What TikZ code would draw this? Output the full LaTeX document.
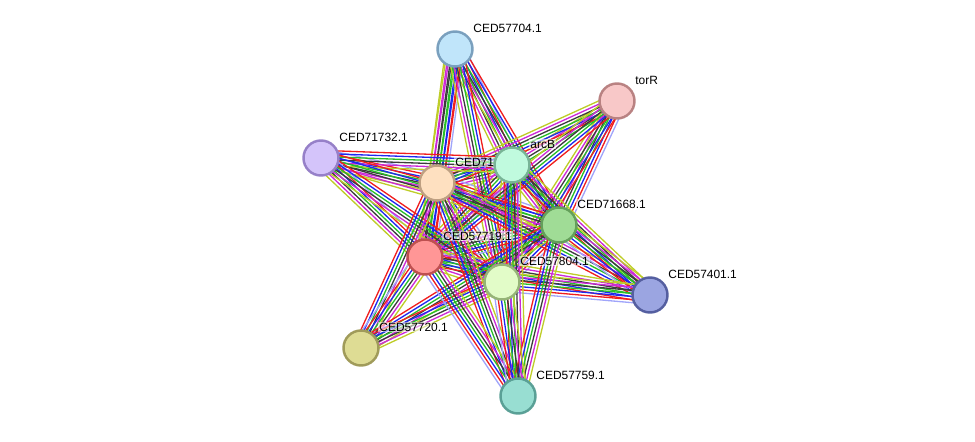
\documentclass[tikz,border=0pt]{standalone}
\usepackage{fontspec}
\newfontfamily\lblfont{Liberation Sans}
\usetikzlibrary{calc}

\definecolor{sgreen}{RGB}{40,190,40}
\definecolor{sred}{RGB}{240,30,30}
\definecolor{sblue}{RGB}{30,40,240}
\definecolor{sblack}{RGB}{60,60,60}
\definecolor{smag}{RGB}{205,40,215}
\definecolor{syel}{RGB}{190,205,40}
\definecolor{slblue}{RGB}{160,165,250}

\pgfdeclarelayer{edgelayer}
\pgfdeclarelayer{lbllayer}
\pgfsetlayers{edgelayer,lbllayer,main}

% colour sets of the evidence lines
\def\fullc{syel,smag,sblack,sgreen,sblue,sred,slblue}
\def\midc{syel,smag,sblack,sgreen,sblue,sred}
\def\lowc{syel,smag,sblack,sgreen}

% one bundle of parallel lines between two nodes
\newcommand{\bundle}[3]{%
  \foreach \c [count=\n] in #3 {\xdef\bn{\n}}%
  \foreach \c [count=\i] in #3 {%
    \pgfmathsetmacro{\off}{(\i-(\bn+1)/2)*1.75}%
    \draw[\c, evline] ($(#1.center)!\off pt!90:(#2.center)$) -- ($(#2.center)!\off pt!-90:(#1.center)$);
  }%
}

\begin{document}
\begin{tikzpicture}[
    x=0.02cm, y=-0.02cm,
    prot/.style={
        circle,
        minimum size=0.7cm,
        line width=1.4pt,
        inner sep=0pt
    },
    lbl/.style={
        anchor=west,
        font=\lblfont\fontsize{6.8}{8}\selectfont,
        fill=white,
        fill opacity=0.55,
        text opacity=1,
        inner sep=0.6pt
    },
    evline/.style={
        line width=0.75pt
    }
]
\useasboundingbox (0,0) rectangle (975,442);

% Proteins
\node[prot, fill={rgb,255:red,192;green,229;blue,250}, draw={rgb,255:red,122;green,160;blue,190}] (p1) at (455,49) {};
\node[prot, fill={rgb,255:red,248;green,200;blue,200}, draw={rgb,255:red,185;green,130;blue,130}] (torr) at (617,101) {};
\node[prot, fill={rgb,255:red,212;green,196;blue,250}, draw={rgb,255:red,150;green,128;blue,200}] (c32) at (321,158) {};
\node[prot, fill={rgb,255:red,254;green,224;blue,192}, draw={rgb,255:red,190;green,160;blue,130}] (c71) at (437,183) {};
\node[prot, fill={rgb,255:red,192;green,250;blue,222}, draw={rgb,255:red,120;green,180;blue,150}] (arcb) at (512,165) {};
\node[prot, fill={rgb,255:red,160;green,220;blue,150}, draw={rgb,255:red,100;green,160;blue,90}] (c68) at (559,225) {};
\node[prot, fill={rgb,255:red,255;green,150;blue,150}, draw={rgb,255:red,190;green,80;blue,80}] (c19) at (425,257) {};
\node[prot, fill={rgb,255:red,226;green,252;blue,200}, draw={rgb,255:red,150;green,180;blue,120}] (c04) at (502,282) {};
\node[prot, fill={rgb,255:red,155;green,165;blue,225}, draw={rgb,255:red,85;green,95;blue,160}] (c01) at (650,295) {};
\node[prot, fill={rgb,255:red,222;green,220;blue,148}, draw={rgb,255:red,160;green,155;blue,90}] (c20) at (361,348) {};
\node[prot, fill={rgb,255:red,152;green,222;blue,210}, draw={rgb,255:red,90;green,160;blue,150}] (c59) at (518,396) {};

% Labels
\begin{pgfonlayer}{lbllayer}
\node[lbl] (p1l)   at ($(p1)+(17,-21)$)   {CED57704.1};
\node[lbl] (torrl) at ($(torr)+(17,-21)$) {torR};
\node[lbl] (c32l)  at ($(c32)+(17,-21)$)  {CED71732.1};
\node[lbl] (c71l)  at ($(c71)+(17,-21)$)  {CED71};
\node[lbl] (arcbl) at ($(arcb)+(17,-21)$) {arcB};
\node[lbl] (c68l)  at ($(c68)+(17,-21)$)  {CED71668.1};
\node[lbl] (c19l)  at ($(c19)+(17,-21)$)  {CED57719.1};
\node[lbl] (c04l)  at ($(c04)+(17,-21)$)  {CED57804.1};
\node[lbl] (c01l)  at ($(c01)+(17,-21)$)  {CED57401.1};
\node[lbl] (c20l)  at ($(c20)+(17,-21)$)  {CED57720.1};
\node[lbl] (c59l)  at ($(c59)+(17,-21)$)  {CED57759.1};
\end{pgfonlayer}

% Evidence bundles
\begin{pgfonlayer}{edgelayer}
% core
\bundle{c71}{arcb}{\fullc}
\bundle{c71}{c68}{\fullc}
\bundle{c71}{c19}{\fullc}
\bundle{c71}{c04}{\fullc}
\bundle{arcb}{c68}{\fullc}
\bundle{arcb}{c19}{\fullc}
\bundle{arcb}{c04}{\fullc}
\bundle{c68}{c19}{\fullc}
\bundle{c68}{c04}{\fullc}
\bundle{c19}{c04}{\fullc}
% CED57704.1
\bundle{p1}{c71}{\fullc}
\bundle{p1}{arcb}{\fullc}
\bundle{p1}{c68}{\midc}
\bundle{p1}{c19}{\midc}
\bundle{p1}{c04}{\midc}
% torR
\bundle{torr}{arcb}{\lowc}
\bundle{torr}{c71}{\midc}
\bundle{torr}{c68}{\fullc}
\bundle{torr}{c04}{\midc}
\bundle{torr}{c19}{\midc}
% CED71732.1
\bundle{c32}{c71}{\fullc}
\bundle{c32}{arcb}{\midc}
\bundle{c32}{c68}{\midc}
\bundle{c32}{c19}{\fullc}
\bundle{c32}{c04}{\midc}
% CED57401.1
\bundle{c01}{c71}{\midc}
\bundle{c01}{arcb}{\midc}
\bundle{c01}{c68}{\fullc}
\bundle{c01}{c19}{\midc}
\bundle{c01}{c04}{\fullc}
% CED57720.1
\bundle{c20}{c71}{\midc}
\bundle{c20}{c19}{\fullc}
\bundle{c20}{c68}{\midc}
\bundle{c20}{c04}{\midc}
% CED57759.1
\bundle{c59}{c71}{\midc}
\bundle{c59}{arcb}{\midc}
\bundle{c59}{c68}{\midc}
\bundle{c59}{c19}{\fullc}
\bundle{c59}{c04}{\fullc}
\end{pgfonlayer}

\end{tikzpicture}
\end{document}
